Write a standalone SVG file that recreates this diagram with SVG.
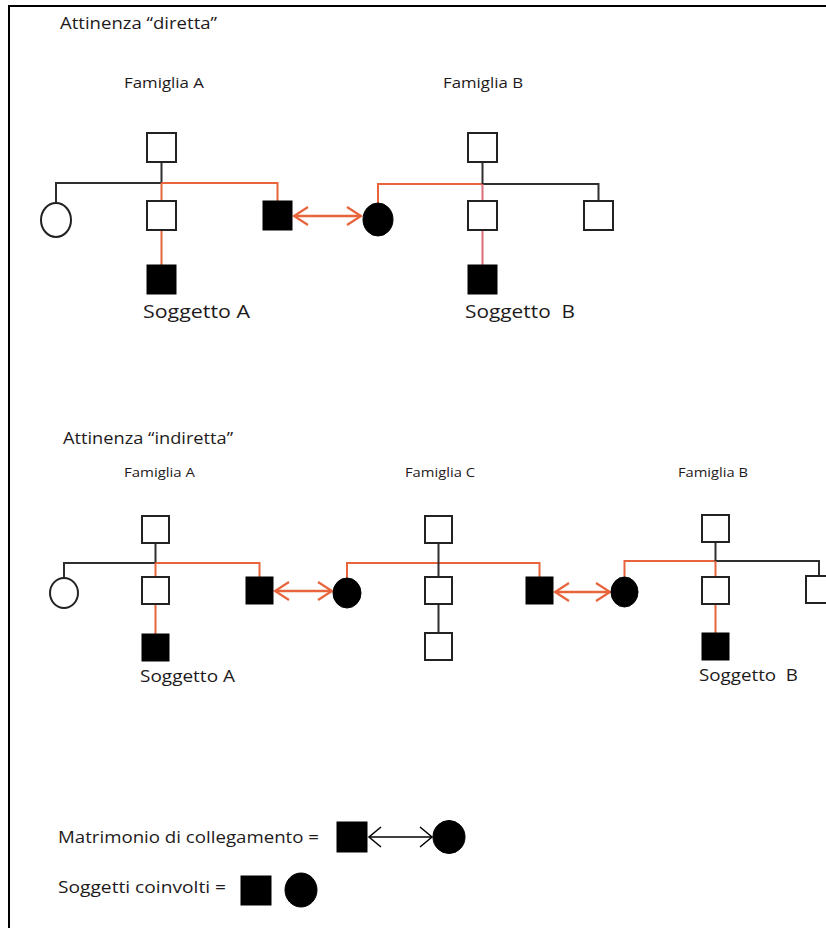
<svg xmlns="http://www.w3.org/2000/svg" width="826" height="928" viewBox="0 0 826 928">
  <style>
    text { font-family: "Open Sans", "Liberation Sans", sans-serif; fill: #1e1a1b; }
    .title { font-size: 17px; }
    .fam1 { font-size: 14.5px; }
    .fam2 { font-size: 13.5px; }
    .subj1 { font-size: 18px; }
    .subj2 { font-size: 15.5px; }
    .legend { font-size: 15.5px; }
    .box { fill: #ffffff; stroke: #222222; stroke-width: 2; }
    .solid { fill: #000000; stroke: #000000; stroke-width: 1; }
    .kin { fill: none; stroke: #2e2e2e; stroke-width: 2; }
    .link { fill: none; stroke: #e8643c; stroke-width: 2; }
    .linkb { fill: none; stroke: #dc6e78; stroke-width: 2; }
    .marriage { fill: none; stroke: #e8643c; stroke-width: 2.5; }
    .marriage-key { fill: none; stroke: #000000; stroke-width: 1.5; }
    .frame { stroke: #000000; stroke-width: 2; }
  </style>
  <defs>
    <marker id="vOrange" viewBox="-16 -11 18 22" markerWidth="18" markerHeight="22" refX="0" refY="0" orient="auto-start-reverse" markerUnits="userSpaceOnUse">
      <path d="M-14,-9 L0,0 L-14,9" fill="none" stroke="#e8643c" stroke-width="2.2"/>
    </marker>
    <marker id="vBlack" viewBox="-16 -12 18 24" markerWidth="18" markerHeight="24" refX="0" refY="0" orient="auto-start-reverse" markerUnits="userSpaceOnUse">
      <path d="M-12,-10 L0,0 L-12,10" fill="none" stroke="#000000" stroke-width="1.5"/>
    </marker>
  </defs>

  <rect x="0" y="0" width="826" height="928" fill="#ffffff"/>
  <!-- frame: top and left rules -->
  <line class="frame" x1="8" y1="6" x2="826" y2="6"/>
  <line class="frame" x1="9" y1="5" x2="9" y2="928"/>

  <!-- ===== direct kinship ===== -->
  <text class="title" x="60" y="29" textLength="157" lengthAdjust="spacingAndGlyphs">Attinenza “diretta”</text>
  <text class="fam1" x="124" y="88" textLength="80" lengthAdjust="spacingAndGlyphs">Famiglia A</text>
  <text class="fam1" x="443" y="88" textLength="80" lengthAdjust="spacingAndGlyphs">Famiglia B</text>

  <g id="connectors">
    <!-- direct: family A -->
    <path class="kin" d="M161.5,162 V183 M56,203 V183 H161.5"/>
    <path class="link" d="M161.5,183 H277.5 V201 M161.5,183 V201 M161.5,230 V265"/>
    <!-- direct: family B -->
    <path class="link" d="M378,203 V184 H482.5"/>
    <path class="kin" d="M482.5,162 V184 H598.5 V201"/>
    <path class="linkb" d="M482.5,184 V201 M482.5,230 V265"/>
    <line class="marriage" x1="294" y1="216" x2="361" y2="216" marker-start="url(#vOrange)" marker-end="url(#vOrange)"/>

    <!-- indirect: family A -->
    <path class="kin" d="M155.5,543 V563 M64,578 V563 H155.5"/>
    <path class="link" d="M155.5,563 H259.5 V577 M155.5,563 V577 M155.5,604 V634"/>
    <line class="marriage" x1="275" y1="591" x2="332" y2="591" marker-start="url(#vOrange)" marker-end="url(#vOrange)"/>
    <!-- indirect: family C -->
    <path class="link" d="M347,578 V563 H539.5 V577"/>
    <path class="kin" d="M438.5,543 V577 M438.5,604 V633"/>
    <line class="marriage" x1="555" y1="592" x2="610" y2="592" marker-start="url(#vOrange)" marker-end="url(#vOrange)"/>
    <!-- indirect: family B -->
    <path class="link" d="M624.5,577 V561 H715.5"/>
    <path class="kin" d="M715.5,542 V561 H819 V576"/>
    <path class="link" d="M715.5,561 V577 M715.5,604 V633"/>

    <!-- key -->
    <line class="marriage-key" x1="369" y1="837" x2="432" y2="837" marker-start="url(#vBlack)" marker-end="url(#vBlack)"/>
  </g>

  <!-- direct: family A members -->
  <g id="dA-parent"><rect class="box" x="147" y="133" width="29" height="29"/></g>
  <g id="dA-sister"><ellipse class="box" cx="56" cy="220" rx="15" ry="17"/></g>
  <g id="dA-brother"><rect class="box" x="147" y="201" width="29" height="29"/></g>
  <g id="dA-subject"><rect class="solid" x="147" y="265" width="29" height="29"/></g>
  <g id="dA-spouse"><rect class="solid" x="263" y="201" width="29" height="29"/></g>
  <!-- direct: family B members -->
  <g id="dB-spouse"><ellipse class="solid" cx="378" cy="219.5" rx="15" ry="16.5"/></g>
  <g id="dB-parent"><rect class="box" x="468" y="133" width="29" height="29"/></g>
  <g id="dB-child"><rect class="box" x="468" y="201" width="29" height="29"/></g>
  <g id="dB-sibling"><rect class="box" x="584" y="201" width="29" height="29"/></g>
  <g id="dB-subject"><rect class="solid" x="468" y="265" width="29" height="29"/></g>

  <text class="subj1" x="143" y="318" textLength="107" lengthAdjust="spacingAndGlyphs">Soggetto A</text>
  <text class="subj1" x="465" y="318" textLength="110" lengthAdjust="spacingAndGlyphs" xml:space="preserve">Soggetto  B</text>

  <!-- ===== indirect kinship ===== -->
  <text class="title" x="63" y="444" textLength="170" lengthAdjust="spacingAndGlyphs">Attinenza “indiretta”</text>
  <text class="fam2" x="124" y="477" textLength="71" lengthAdjust="spacingAndGlyphs">Famiglia A</text>
  <text class="fam2" x="405" y="477" textLength="70" lengthAdjust="spacingAndGlyphs">Famiglia C</text>
  <text class="fam2" x="678" y="477" textLength="70" lengthAdjust="spacingAndGlyphs">Famiglia B</text>

  <!-- indirect: family A members -->
  <g id="iA-parent"><rect class="box" x="142" y="516" width="27" height="27"/></g>
  <g id="iA-sister"><ellipse class="box" cx="64" cy="593" rx="14" ry="15"/></g>
  <g id="iA-brother"><rect class="box" x="142" y="577" width="27" height="27"/></g>
  <g id="iA-subject"><rect class="solid" x="142" y="634" width="27" height="27"/></g>
  <g id="iA-spouse"><rect class="solid" x="246" y="577" width="27" height="27"/></g>
  <!-- indirect: family C members -->
  <g id="iC-wife"><ellipse class="solid" cx="347" cy="593" rx="14" ry="15"/></g>
  <g id="iC-parent"><rect class="box" x="425" y="516" width="27" height="27"/></g>
  <g id="iC-child"><rect class="box" x="425" y="577" width="27" height="27"/></g>
  <g id="iC-grandchild"><rect class="box" x="425" y="633" width="27" height="27"/></g>
  <g id="iC-husband"><rect class="solid" x="526" y="577" width="27" height="27"/></g>
  <!-- indirect: family B members -->
  <g id="iB-spouse"><ellipse class="solid" cx="624.5" cy="592" rx="13.5" ry="15"/></g>
  <g id="iB-parent"><rect class="box" x="702" y="515" width="27" height="27"/></g>
  <g id="iB-child"><rect class="box" x="702" y="577" width="27" height="27"/></g>
  <g id="iB-sibling"><rect class="box" x="806" y="576" width="27" height="27"/></g>
  <g id="iB-subject"><rect class="solid" x="702" y="633" width="27" height="27"/></g>

  <text class="subj2" x="140" y="682" textLength="95" lengthAdjust="spacingAndGlyphs">Soggetto A</text>
  <text class="subj2" x="699" y="681" textLength="99" lengthAdjust="spacingAndGlyphs" xml:space="preserve">Soggetto  B</text>

  <!-- ===== key ===== -->
  <text class="legend" x="58" y="843" textLength="261" lengthAdjust="spacingAndGlyphs">Matrimonio di collegamento =</text>
  <g id="key-husband"><rect class="solid" x="337" y="822" width="30" height="30"/></g>
  <g id="key-wife"><ellipse class="solid" cx="449" cy="837" rx="16" ry="16.5"/></g>
  <text class="legend" x="58" y="893" textLength="168" lengthAdjust="spacingAndGlyphs">Soggetti coinvolti =</text>
  <g id="key-male"><rect class="solid" x="241" y="876" width="30" height="29"/></g>
  <g id="key-female"><ellipse class="solid" cx="301" cy="890" rx="16" ry="17"/></g>
</svg>
